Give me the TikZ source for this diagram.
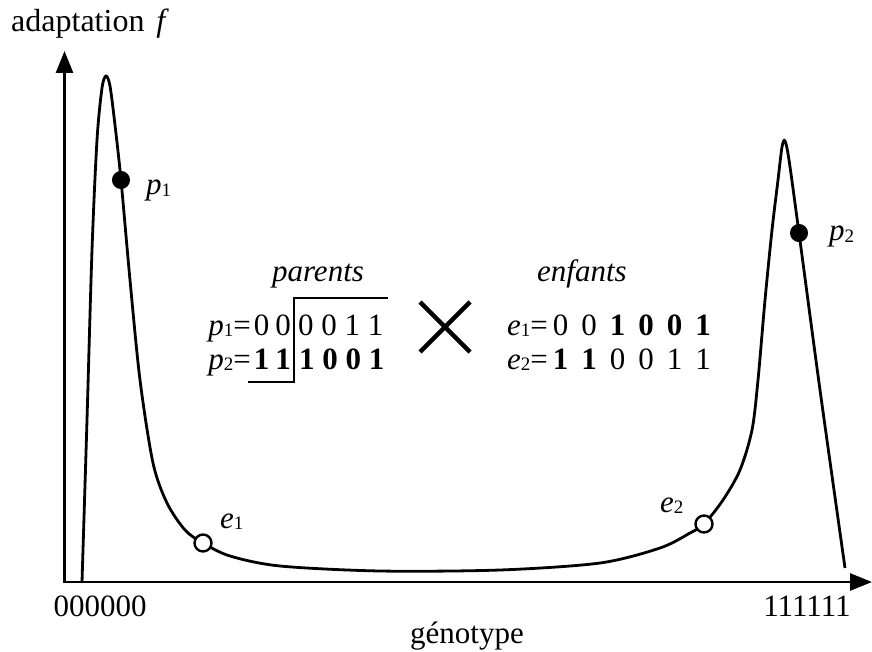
\documentclass[tikz,border=0pt]{standalone}
\usepackage{fontspec}
\setmainfont{Liberation Serif}
\usetikzlibrary{arrows.meta}
\newcommand{\sbs}[1]{\raisebox{-1.5pt}{\fontsize{19}{19}\selectfont #1}}
\newcommand{\gp}{\hspace{13pt}}
\begin{document}
\begin{tikzpicture}[x=1pt,y=-1pt,
  every node/.style={font=\fontsize{31}{36}\selectfont, inner sep=0pt},
  axis/.style={line width=2.8pt, {Triangle[length=22pt,width=17pt]}-{Triangle[length=22pt,width=17pt]}},
  curve/.style={line width=2.8pt},
  filled/.style={circle, fill=black, draw=black, line width=1pt, minimum size=17pt, inner sep=0pt},
  hollow/.style={circle, fill=white, draw=black, line width=2.4pt, minimum size=17pt, inner sep=0pt},
  lbl/.style={anchor=base west},
  cut/.style={line width=2.2pt},
  cross/.style={line width=4.5pt}]
\useasboundingbox (0,0) rectangle (872,652);
% axes
\coordinate (O) at (64.5,582);
\coordinate (ytip) at (64.5,51);
\coordinate (xtip) at (872,582);
\draw[axis] (ytip) -- (O) -- (xtip);
% curve
\draw[curve] plot[smooth, tension=0.5] coordinates {
 (82,582) (87,420) (92,250) (97,140) (102,88) (106,76) (110,86) (115,125) (121,180)
 (130,280) (140,380) (153,463) (167,503) (185,530) (203,543) (230,556) (280,566)
 (380,571) (500,570) (600,563) (660,548) (690,533) (704,524) (723,500) (740,470)
 (752,430) (758,380) (765,300) (772,230) (778,180) (782,147) (785,141) (789,160)
 (799,233) (820,390) (845,568)};
% points
\node[filled] (p1) at (121,180) {};
\node[filled] (p2) at (799,233) {};
\node[hollow] (e1) at (203,543) {};
\node[hollow] (e2) at (704,524) {};
\node[lbl] (lp1) at (146,195) {\textit{p}\sbs{1}};
\node[lbl] (lp2) at (829,241) {\textit{p}\sbs{2}};
\node[lbl] (le1) at (220,528) {\textit{e}\sbs{1}};
\node[lbl] (le2) at (660,512) {\textit{e}\sbs{2}};
% axis labels
\node[lbl, font=\fontsize{32}{36}\selectfont] (title) at (11,32) {adaptation\hspace{12pt}\textit{f}};
\node[anchor=base] (zeros) at (100,616) {000000};
\node[anchor=base] (ones) at (807,616) {111111};
\node[anchor=base] (geno) at (467,643) {génotype};
% middle
\node[anchor=base] (par) at (318,281) {\textit{parents}};
\node[anchor=base] (enf) at (582,281) {\textit{enfants}};
\node[anchor=base east] (r1l) at (291,335) {\textit{p}\sbs{1}=\kern3pt0\hspace{6pt}0};
\node[anchor=base west] (r1r) at (298,335) {0 0 1 1};
\node[anchor=base east] (r2l) at (291,369) {\textit{p}\sbs{2}=\kern3pt\textbf{1\hspace{6pt}1}};
\node[anchor=base west] (r2r) at (299,369) {\textbf{1 0 0 1}};
\node[anchor=base west] (c1) at (507,335) {\textit{e}\sbs{1}=\kern5pt0\gp0\gp\textbf{1\gp0\gp0\gp1}};
\node[anchor=base west] (c2) at (507,369) {\textit{e}\sbs{2}=\kern5pt\textbf{1\gp1}\gp0\gp0\gp1\gp1};
\coordinate (k1) at (248,382);
\coordinate (k2) at (294,382);
\coordinate (k3) at (294,298);
\coordinate (k4) at (388,298);
\draw[cut] (k1) -- (k2) -- (k3) -- (k4);
\coordinate (x1) at (420,302);
\coordinate (x2) at (470,352);
\coordinate (x3) at (470,302);
\coordinate (x4) at (420,352);
\draw[cross] (x1) -- (x2);
\draw[cross] (x3) -- (x4);
\end{tikzpicture}
\end{document}
